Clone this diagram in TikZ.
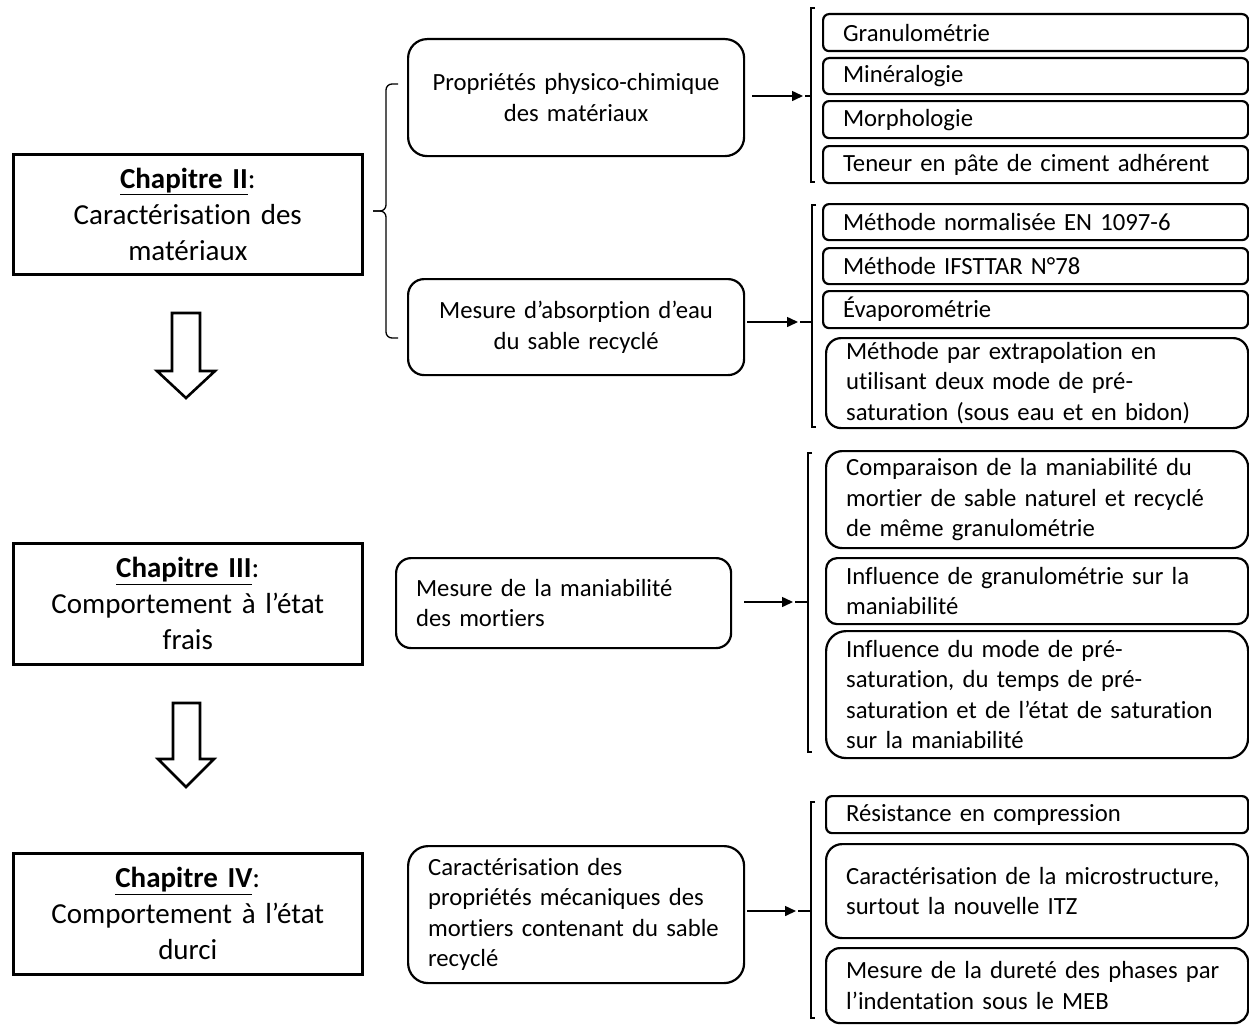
\documentclass[tikz,border=0pt]{standalone}
\usepackage{fontspec}
\setmainfont[Ligatures={NoCommon}]{Carlito}
\usetikzlibrary{arrows.meta}
\newcommand\boxfont{\fontsize{24.7}{30.5}\selectfont}
\newcommand\chapfont{\fontsize{29}{36}\selectfont}
\begin{document}
\begin{tikzpicture}[x=1pt,y=-1pt,
  chap/.style={draw, line width=2.6pt, font=\chapfont, align=center, anchor=north west,
    inner sep=0pt, minimum width=349pt, text width=330pt},
  rbox/.style={draw, line width=2.2pt, font=\boxfont, anchor=north west, inner ysep=0pt},
  lbox/.style={rbox, align=left, inner xsep=20pt},
  cbox/.style={rbox, align=center, inner xsep=10pt},
  brk/.style={line width=1.3pt},
  arr/.style={line width=1.5pt, -{Triangle[length=11pt,width=10pt]}},
  blockarrow/.style={draw, line width=2.6pt, line join=miter}
]
\useasboundingbox (0,0) rectangle (1249,1025);

% Chapter boxes
\node[chap, minimum height=120pt] (ch2) at (12,153) {\underline{\textbf{Chapitre II}}:\\Caractérisation des\\matériaux};
\node[chap, minimum height=121pt] (ch3) at (12,542) {\underline{\textbf{Chapitre III}}:\\Comportement à l’état\\frais};
\node[chap, minimum height=121pt] (ch4) at (12,852) {\underline{\textbf{Chapitre IV}}:\\Comportement à l’état\\durci};

% Block arrows
\draw[blockarrow] (172,313) -- (200,313) -- (200,371) -- (215,371) -- (186,398) -- (157,371) -- (172,371) -- cycle;
\draw[blockarrow] (173,703) -- (200,703) -- (200,759) -- (214,759) -- (186,787) -- (158,759) -- (173,759) -- cycle;

% Middle boxes
\node[cbox, minimum width=336pt, minimum height=117pt, text width=316pt, rounded corners=19pt] (p1) at (407,38) {Propriétés physico-chimique\\des matériaux};
\node[cbox, minimum width=336pt, minimum height=96pt, text width=316pt, rounded corners=16pt] (p2) at (407,278) {Mesure d’absorption d’eau\\du sable recyclé};
\node[lbox, minimum width=335pt, minimum height=90pt, text width=295pt, rounded corners=15pt] (p3) at (395,557) {Mesure de la maniabilité\\des mortiers};
\node[lbox, minimum width=336pt, minimum height=137pt, text width=296pt, rounded corners=20pt] (p4) at (407,845) {Caractérisation des\\propriétés mécaniques des\\mortiers contenant du sable\\recyclé};

% Left bracket for chapter II
\coordinate (lb) at (373,211);
\draw[brk, rounded corners=6pt] (398,84) -- (386,84) -- (386,211) -- (lb);
\draw[brk, rounded corners=6pt] (398,338) -- (386,338) -- (386,211) -- (lb);

% Right group 1
\node[lbox, minimum width=425pt, minimum height=37pt, text width=385pt, rounded corners=6pt] (g1) at (822,13) {Granulométrie};
\node[lbox, minimum width=425pt, minimum height=36pt, text width=385pt, rounded corners=6pt] (g2) at (822,57) {Minéralogie};
\node[lbox, minimum width=425pt, minimum height=37pt, text width=385pt, rounded corners=6pt] (g3) at (822,100) {Morphologie};
\node[lbox, minimum width=425pt, minimum height=37pt, text width=385pt, rounded corners=6pt] (g4) at (822,145) {Teneur en pâte de ciment adhérent};

% Right group 2
\node[lbox, minimum width=425pt, minimum height=36pt, text width=385pt, rounded corners=6pt] (m1) at (822,203) {Méthode normalisée EN 1097-6};
\node[lbox, minimum width=425pt, minimum height=36pt, text width=385pt, rounded corners=6pt] (m2) at (822,247) {Méthode IFSTTAR N°78};
\node[lbox, minimum width=425pt, minimum height=37pt, text width=385pt, rounded corners=6pt] (m3) at (822,290) {Évaporométrie};
\node[lbox, minimum width=422pt, minimum height=90pt, text width=382pt, rounded corners=15pt] (m4) at (825,337) {Méthode par extrapolation en\\utilisant deux mode de pré-\\saturation (sous eau et en bidon)};

% Right group 3
\node[lbox, minimum width=422pt, minimum height=97pt, text width=382pt, rounded corners=16pt] (c1) at (825,450) {Comparaison de la maniabilité du\\mortier de sable naturel et recyclé\\de même granulométrie};
\node[lbox, minimum width=422pt, minimum height=66pt, text width=382pt, rounded corners=11pt] (c2) at (825,557) {Influence de granulométrie sur la\\maniabilité};
\node[lbox, minimum width=422pt, minimum height=127pt, text width=382pt, rounded corners=20pt] (c3) at (825,630) {Influence du mode de pré-\\saturation, du temps de pré-\\saturation et de l’état de saturation\\sur la maniabilité};

% Right group 4
\node[lbox, minimum width=422pt, minimum height=37pt, text width=382pt, rounded corners=6pt] (d1) at (825,795) {Résistance en compression};
\node[lbox, minimum width=422pt, minimum height=94pt, text width=382pt, rounded corners=16pt] (d2) at (825,843) {Caractérisation de la microstructure,\\surtout la nouvelle ITZ};
\node[lbox, minimum width=422pt, minimum height=75pt, text width=382pt, rounded corners=14pt] (d3) at (825,947) {Mesure de la dureté des phases par\\l’indentation sous le MEB};

% Right brackets
\coordinate (b1) at (805,96);
\coordinate (b2) at (800,322);
\coordinate (b3) at (795,602);
\coordinate (b4) at (798,911);
\draw[brk] (815,8) -- (811,8) -- (811,182) -- (815,182);
\draw[brk] (b1) -- (811,96);
\draw[brk] (816,205) -- (812,205) -- (812,427) -- (816,427);
\draw[brk] (b2) -- (812,322);
\draw[brk] (812,453) -- (808,453) -- (808,752) -- (812,752);
\draw[brk] (b3) -- (808,602);
\draw[brk] (815,802) -- (811,802) -- (811,1018) -- (815,1018);
\draw[brk] (b4) -- (811,911);

% Arrows
\draw[arr, shorten <=7pt, shorten >=2pt] (p1.east |- b1) -- (b1);
\draw[arr, shorten <=2pt, shorten >=2pt] (p2.east |- b2) -- (b2);
\draw[arr, shorten <=12pt, shorten >=2pt] (p3.east |- b3) -- (b3);
\draw[arr, shorten <=2pt, shorten >=2pt] (p4.east |- b4) -- (b4);
\end{tikzpicture}
\end{document}
